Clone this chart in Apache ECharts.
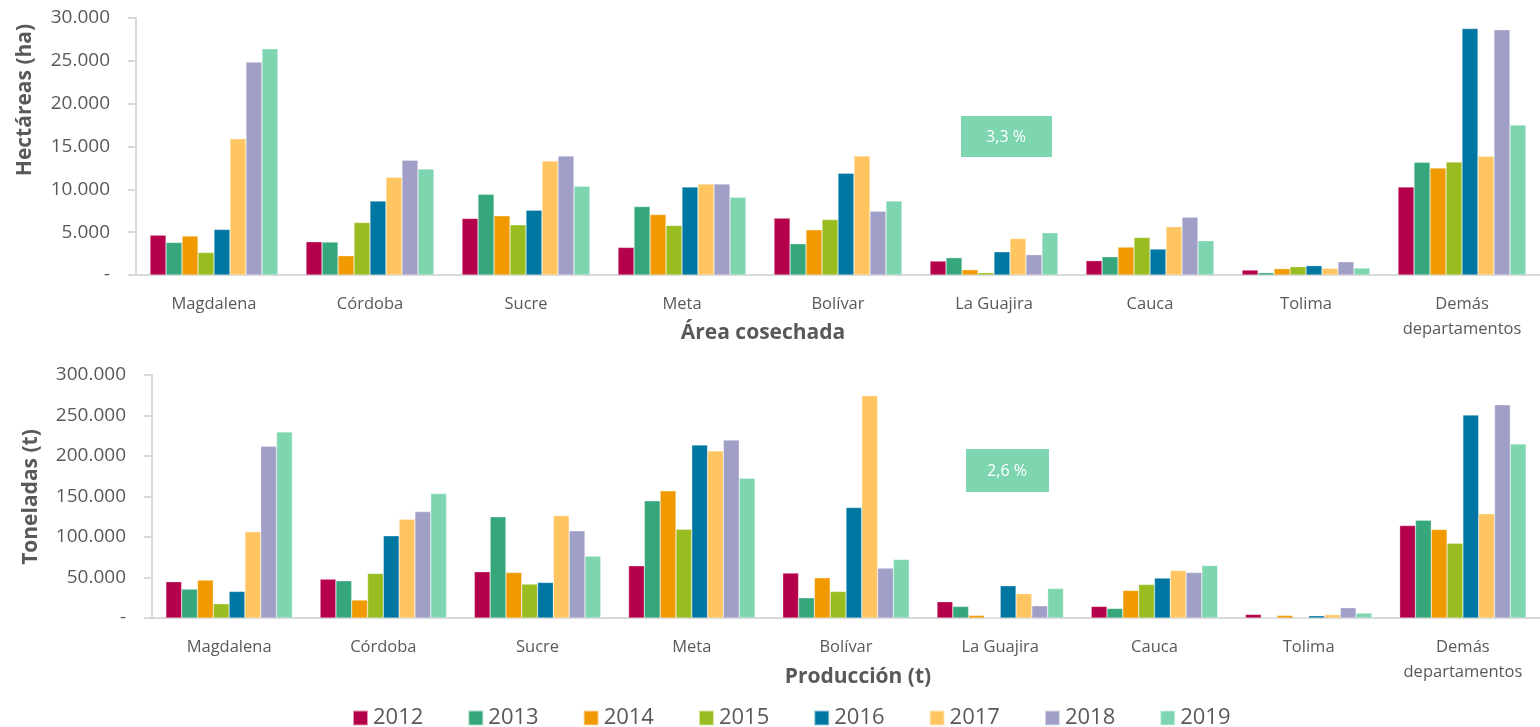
<!DOCTYPE html>
<html lang="es">
  <head>
    <meta charset="UTF-8">
    <title>Área cosechada y producción</title>
    <style>
      html, body { margin: 0; padding: 0; background: #fff; }
      .chart { width: 1540px; height: 727px; }
    </style>
  </head>
  <body>
    <div id="chart" class="chart"></div>

    <script src="https://cdn.jsdelivr.net/npm/echarts@6/dist/echarts.min.js"></script>
    <script type="text/javascript">
      // departamentos y años
      var departamentos = ['Magdalena', 'Córdoba', 'Sucre', 'Meta', 'Bolívar', 'La Guajira', 'Cauca', 'Tolima', 'Demás\ndepartamentos'];
      var anios = ['2012', '2013', '2014', '2015', '2016', '2017', '2018', '2019'];
      var colores = ['#B5004B', '#35A77A', '#F09A00', '#99BD20', '#0077A3', '#FFC560', '#A09FC8', '#7DD6B0'];

      // área cosechada (ha), una fila por año, en el orden de departamentos
      var area2012 = [4650, 3880, 6600, 3220, 6640, 1630, 1670, 580, 10280];
      var area2013 = [3800, 3850, 9430, 7990, 3650, 2020, 2130, 270, 13150];
      var area2014 = [4550, 2250, 6910, 7060, 5280, 620, 3260, 740, 12490];
      var area2015 = [2630, 6130, 5860, 5780, 6480, 270, 4380, 970, 13190];
      var area2016 = [5320, 8650, 7570, 10280, 11880, 2710, 3030, 1090, 28760];
      var area2017 = [15900, 11410, 13310, 10630, 13890, 4260, 5630, 780, 13850];
      var area2018 = [24850, 13390, 13890, 10630, 7450, 2370, 6750, 1550, 28640];
      var area2019 = [26400, 12380, 10360, 9080, 8650, 4930, 4000, 815, 17500];

      // producción (t)
      var prod2012 = [44800, 48000, 57100, 64500, 55500, 20100, 14300, 4450, 114200];
      var prod2013 = [35700, 46000, 124900, 144600, 25000, 14300, 11800, 500, 120800];
      var prod2014 = [46800, 22200, 56200, 157000, 49700, 3200, 34000, 3200, 109300];
      var prod2015 = [17600, 55000, 41900, 109700, 32800, 500, 41400, 300, 92400];
      var prod2016 = [32800, 101500, 43900, 213600, 136400, 39800, 49300, 2800, 250600];
      var prod2017 = [106400, 122000, 126500, 206200, 274400, 30000, 58700, 4100, 128600];
      var prod2018 = [212000, 131400, 107600, 219800, 61600, 15100, 56200, 12700, 263300];
      var prod2019 = [229700, 153600, 76400, 172600, 72300, 36500, 64800, 6100, 214900];

      var areaSeries = [area2012, area2013, area2014, area2015, area2016, area2017, area2018, area2019];
      var prodSeries = [prod2012, prod2013, prod2014, prod2015, prod2016, prod2017, prod2018, prod2019];

      var gris = '#595959';
      var fuente = '"Open Sans", "DejaVu Sans", sans-serif';

      function miles(v) {
        if (v === 0) return '-';
        return String(v).replace(/\B(?=(\d{3})+(?!\d))/g, '.');
      }

      function ejeX(gridIndex) {
        return {
          type: 'category',
          gridIndex: gridIndex,
          data: departamentos,
          axisLine: { lineStyle: { color: '#d9d9d9', width: 2 } },
          axisTick: { show: false },
          axisLabel: { color: gris, fontSize: 16.5, fontFamily: fuente, margin: 17, lineHeight: 25, interval: 0 }
        };
      }

      function ejeY(gridIndex, max, interval) {
        return {
          type: 'value',
          gridIndex: gridIndex,
          min: 0,
          max: max,
          interval: interval,
          splitLine: { show: false },
          axisLine: { show: true, lineStyle: { color: '#d9d9d9', width: 2 } },
          axisTick: { show: true, length: 8, lineStyle: { color: '#d9d9d9', width: 2 } },
          axisLabel: { color: gris, fontSize: 19, fontFamily: fuente, margin: 26, formatter: miles }
        };
      }

      var series = [];
      anios.forEach(function (anio, i) {
        series.push({
          name: anio, type: 'bar', xAxisIndex: 0, yAxisIndex: 0,
          data: areaSeries[i], barGap: '0%', barCategoryGap: '18%',
          itemStyle: { color: colores[i], borderColor: 'rgba(255,255,255,0.6)', borderWidth: 0.5 }
        });
      });
      anios.forEach(function (anio, i) {
        series.push({
          name: anio, type: 'bar', xAxisIndex: 1, yAxisIndex: 1,
          data: prodSeries[i], barGap: '0%', barCategoryGap: '18%',
          itemStyle: { color: colores[i], borderColor: 'rgba(255,255,255,0.6)', borderWidth: 0.5 }
        });
      });

      var tituloBold = { fill: gris, fontSize: 21, fontWeight: 'bold', fontFamily: fuente, textAlign: 'center', textVerticalAlign: 'middle' };

      var myChart = echarts.init(document.getElementById('chart'));
      var option = {
        backgroundColor: '#fff',
        animation: false,
        color: colores,
        textStyle: { fontFamily: fuente },
        grid: [
          { left: 136, top: 18, width: 1404, height: 257 },
          { left: 152, top: 375, width: 1388, height: 243 }
        ],
        xAxis: [ejeX(0), ejeX(1)],
        yAxis: [ejeY(0, 30000, 5000), ejeY(1, 300000, 50000)],
        legend: {
          data: anios,
          top: 702,
          left: 347,
          icon: 'rect',
          itemWidth: 15,
          itemHeight: 15,
          itemGap: 44,
          textStyle: { color: gris, fontSize: 22, fontFamily: fuente }
        },
        graphic: [
          { type: 'text', x: 25, y: 100, rotation: Math.PI / 2, style: Object.assign({ text: 'Hectáreas (ha)' }, tituloBold) },
          { type: 'text', x: 31, y: 497, rotation: Math.PI / 2, style: Object.assign({ text: 'Toneladas (t)' }, tituloBold) },
          { type: 'text', x: 763, y: 333, style: Object.assign({ text: 'Área cosechada' }, tituloBold) },
          { type: 'text', x: 858, y: 677, style: Object.assign({ text: 'Producción (t)' }, tituloBold) },
          {
            type: 'group', x: 961, y: 116,
            children: [
              { type: 'rect', shape: { x: 0, y: 0, width: 91, height: 41 }, style: { fill: '#7DD6B0' } },
              { type: 'text', x: 45, y: 21, style: { text: '3,3 %', fill: '#fff', fontSize: 16, fontFamily: fuente, textAlign: 'center', textVerticalAlign: 'middle' } }
            ]
          },
          {
            type: 'group', x: 966, y: 449,
            children: [
              { type: 'rect', shape: { x: 0, y: 0, width: 83, height: 43 }, style: { fill: '#7DD6B0' } },
              { type: 'text', x: 41, y: 22, style: { text: '2,6 %', fill: '#fff', fontSize: 16, fontFamily: fuente, textAlign: 'center', textVerticalAlign: 'middle' } }
            ]
          }
        ],
        series: series
      };

      myChart.setOption(option);
    </script>
  </body>
</html>
